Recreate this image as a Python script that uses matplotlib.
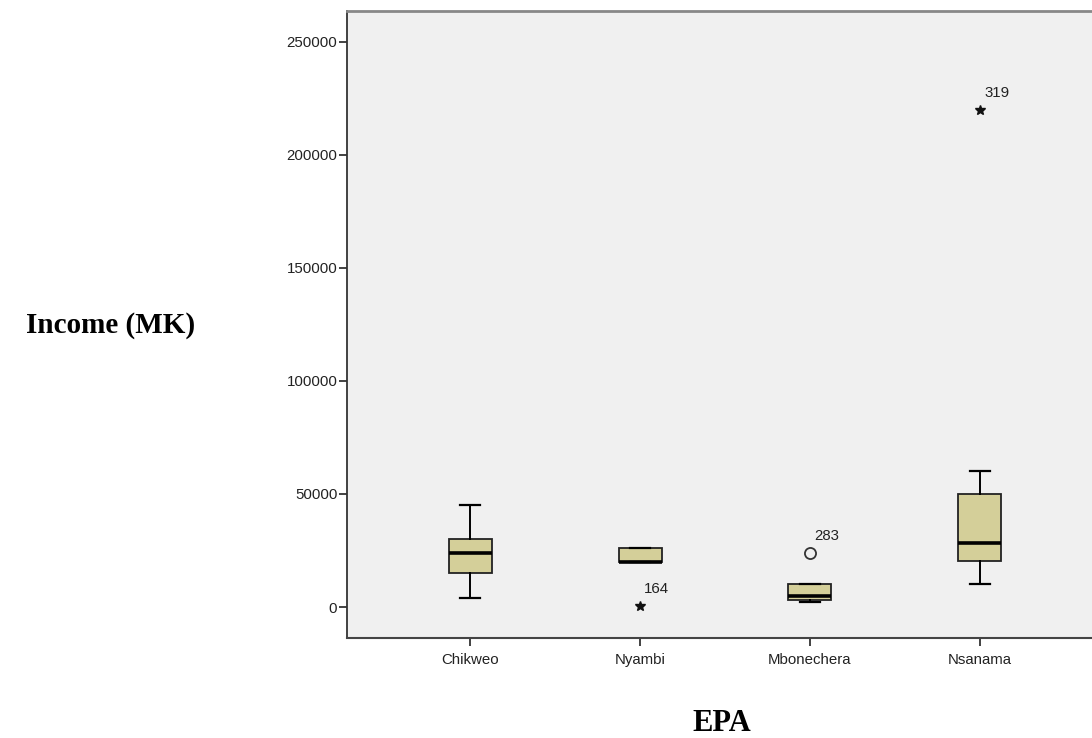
import numpy as np
import matplotlib.pyplot as plt

# EPA boxplot summary values
epa = ["Chikweo", "Nyambi", "Mbonechera", "Nsanama"]
whis_lo = [4000, 20000, 2000, 10000]
q1 = [15000, 20000, 3000, 20500]
median = [24000, 20000, 5000, 28500]
q3 = [30000, 26000, 10000, 50000]
whis_hi = [45000, 26000, 10000, 60000]

# outliers: (group index, value, case id, marker)
out_group = [1, 2, 3]
out_value = [500, 24000, 220000]
out_case = ["164", "283", "319"]
out_marker = ["*", "o", "*"]

yticks = [0, 50000, 100000, 150000, 200000, 250000]

box_color = "#d4cf99"

fig = plt.figure(figsize=(10.92, 7.38), dpi=100)
ax = fig.add_axes([0.3178, 0.1355, 0.6822, 0.8496])
ax.set_facecolor("#f0f0f0")

stats = []
for i in range(len(epa)):
    stats.append({
        "whislo": whis_lo[i], "q1": q1[i], "med": median[i],
        "q3": q3[i], "whishi": whis_hi[i], "fliers": [], "label": epa[i],
    })

pos = np.arange(1, len(epa) + 1)
ax.bxp(stats, positions=pos, widths=0.253, capwidths=0.12, patch_artist=True,
       showfliers=False,
       boxprops=dict(facecolor=box_color, edgecolor="#222222", linewidth=1.3),
       medianprops=dict(color="black", linewidth=2.6),
       whiskerprops=dict(color="black", linewidth=1.4),
       capprops=dict(color="black", linewidth=1.6))

for g, v, c, m in zip(out_group, out_value, out_case, out_marker):
    x = pos[g]
    if m == "o":
        ax.plot(x, v, marker="o", markersize=8, markerfacecolor="none",
                markeredgecolor="#333333", markeredgewidth=1.3, linestyle="none")
    else:
        ax.plot(x, v, marker="*", markersize=7, color="#111111", linestyle="none")
    ax.annotate(c, (x, v), xytext=(3, 9), textcoords="offset points",
                fontsize=10.8, family="Liberation Sans", color="#222222")

ax.set_xlim(0.2765, 4.659)
ax.set_ylim(-13717, 263717)
ax.set_yticks(yticks)
ax.set_yticklabels([str(t) for t in yticks])
ax.set_xticks(pos)
ax.set_xticklabels(epa)

for lab in ax.get_xticklabels() + ax.get_yticklabels():
    lab.set_family("Liberation Sans")
    lab.set_fontsize(10.8)
    lab.set_color("#222222")
ax.tick_params(axis="y", length=6, width=1.3, pad=1, color="#333333")
ax.tick_params(axis="x", length=6, width=1.3, pad=5, color="#333333")

ax.spines["right"].set_visible(False)
ax.spines["top"].set_color("#888888")
ax.spines["top"].set_linewidth(2)
ax.spines["left"].set_color("#333333")
ax.spines["left"].set_linewidth(1.3)
ax.spines["bottom"].set_color("#444444")
ax.spines["bottom"].set_linewidth(1.5)

fig.text(0.1786, 0.5596, "Income (MK)", ha="right", va="center",
         family="Liberation Serif", fontweight="bold", fontsize=21)
fig.text(0.661, 0.020, "EPA", ha="center", va="center",
         family="Liberation Serif", fontweight="bold", fontsize=22)

fig.savefig("out.png", dpi=100)
